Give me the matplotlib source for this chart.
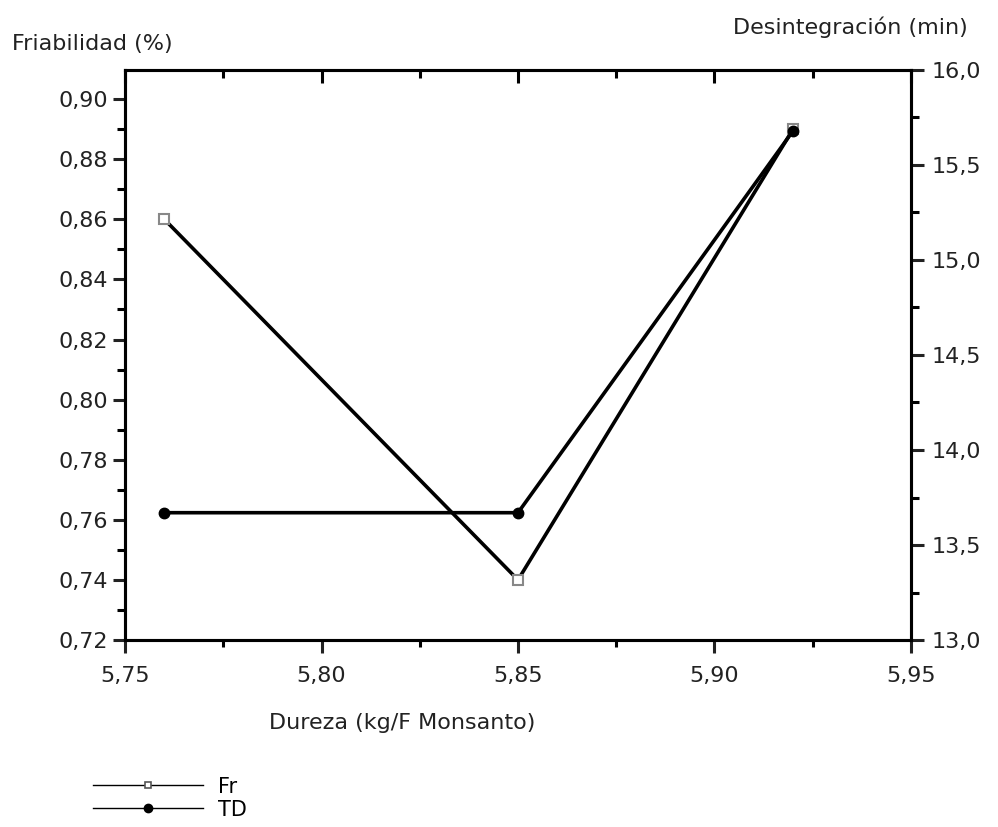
import numpy as np
import matplotlib
matplotlib.use('Agg')
import matplotlib.pyplot as plt
from matplotlib.ticker import MultipleLocator, FuncFormatter
from matplotlib.lines import Line2D

plt.rcParams.update({'font.size': 16, 'font.family': 'DejaVu Sans'})

# data
dureza = [5.76, 5.85, 5.92]
friabilidad = [0.86, 0.74, 0.89]
desintegracion = [13.67, 13.67, 15.68]
series_names = ['Fr', 'TD']


def coma(fmt):
    return FuncFormatter(lambda v, p: format(v, fmt).replace('.', ','))


fig = plt.figure(figsize=(9.98, 8.27), dpi=100)
ax = fig.add_axes([0.1253, 0.2261, 0.7875, 0.6893])
ax2 = ax.twinx()

lw_spine = 2.2
txt_col = '#222222'
for a in (ax, ax2):
    for s in a.spines.values():
        s.set_linewidth(lw_spine)

# Fr on left axis, TD on right axis
ax.plot(dureza, friabilidad, color='black', lw=2.6, marker='s', ms=6.5,
        mfc='white', mec='#888888', mew=1.5, zorder=3)
ax2.plot(dureza, desintegracion, color='black', lw=2.6, marker='o', ms=7.5,
         mfc='black', mec='black', zorder=4)

ax.set_xlim(5.75, 5.95)
ax.set_ylim(0.72, 0.9097)
ax2.set_ylim(13.0, 16.0)

ax.xaxis.set_major_locator(MultipleLocator(0.05))
ax.xaxis.set_minor_locator(MultipleLocator(0.025))
ax.yaxis.set_major_locator(MultipleLocator(0.02))
ax.yaxis.set_minor_locator(MultipleLocator(0.01))
ax2.yaxis.set_major_locator(MultipleLocator(0.5))
ax2.yaxis.set_minor_locator(MultipleLocator(0.25))

ax.xaxis.set_major_formatter(coma('.2f'))
ax.yaxis.set_major_formatter(coma('.2f'))
ax2.yaxis.set_major_formatter(coma('.1f'))

ax.tick_params(axis='x', which='major', direction='out', length=9, width=lw_spine,
               pad=10, top=False, labelsize=16, colors=txt_col)
ax.tick_params(axis='x', which='minor', direction='out', length=5, width=lw_spine, top=False)
ax.tick_params(axis='y', which='major', direction='out', length=9, width=lw_spine,
               pad=3, labelsize=16, colors=txt_col)
ax.tick_params(axis='y', which='minor', direction='out', length=6, width=lw_spine)
ax2.tick_params(axis='y', which='major', direction='out', length=9, width=lw_spine,
                pad=6, labelsize=16, colors=txt_col)
ax2.tick_params(axis='y', which='minor', direction='out', length=6, width=lw_spine)

# inward ticks on the top spine
ax2.xaxis.set_visible(True)
ax2.tick_params(axis='x', which='both', bottom=False, top=True, labelbottom=False,
                labeltop=False, direction='in', width=lw_spine)
ax2.tick_params(axis='x', which='major', length=9)
ax2.tick_params(axis='x', which='minor', length=6)

fig.text(0.012, 0.947, 'Friabilidad (%)', fontsize=16, color=txt_col, va='center')
fig.text(0.970, 0.967, 'Desintegración (min)', fontsize=16, color=txt_col,
         va='center', ha='right')
fig.text(0.403, 0.126, 'Dureza (kg/F Monsanto)', fontsize=16, color=txt_col,
         va='center', ha='center')

handles = [
    Line2D([], [], color='black', lw=1, marker='s', ms=5, mfc='white', mec='#555555', mew=1.2),
    Line2D([], [], color='black', lw=1, marker='o', ms=6, mfc='black', mec='black'),
]
fig.legend(handles, series_names, loc='upper left', bbox_to_anchor=(0.093, 0.061),
           frameon=False, handlelength=5.3, handletextpad=0.7, labelspacing=0.15,
           fontsize=15, borderaxespad=0, borderpad=0)

plt.savefig('out.png', dpi=100)
